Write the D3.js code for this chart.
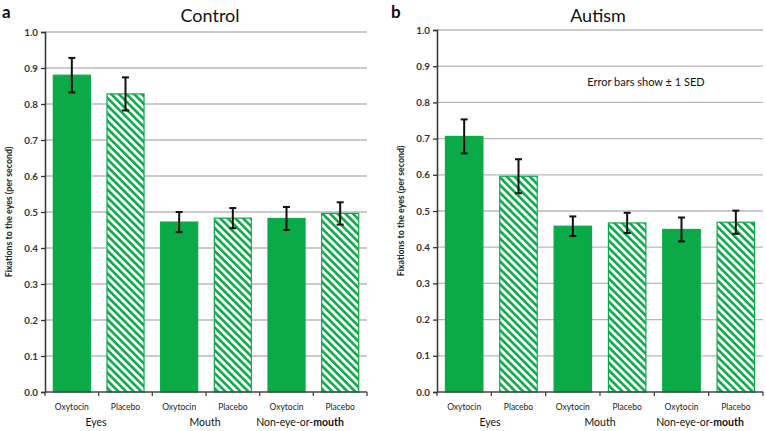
<!DOCTYPE html>
<html><head><meta charset="utf-8">
<script src="https://cdn.jsdelivr.net/npm/d3@7"></script>
<style>
body{margin:0;background:#fff;}
text{font-family:Lato,"Open Sans",sans-serif;}
</style></head>
<body><svg id="c" width="766" height="431"></svg>
<script>
const conditions = ["Oxytocin","Placebo"];
const regions = ["Eyes","Mouth","Non-eye-or-mouth"];
const yTicks = [0,0.1,0.2,0.3,0.4,0.5,0.6,0.7,0.8,0.9,1.0];
// values per region, order: Oxytocin, Placebo
const controlValues = [0.880,0.828, 0.472,0.483, 0.482,0.496];
const controlErr    = [0.048,0.046, 0.028,0.028, 0.032,0.031];
const autismValues  = [0.706,0.596, 0.458,0.467, 0.449,0.469];
const autismErr     = [0.047,0.047, 0.027,0.028, 0.033,0.032];

const green = "#0aaa48";
const svg = d3.select("#c");
const defs = svg.append("defs");
const pat = defs.append("pattern").attr("id","hatch").attr("patternUnits","userSpaceOnUse")
  .attr("width",5.4).attr("height",5.4).attr("patternTransform","rotate(-45)");
pat.append("rect").attr("width",5.4).attr("height",5.4).attr("fill","#fff");
pat.append("rect").attr("x",0).attr("width",2.6).attr("height",5.4).attr("fill",green);

function panel(o){
  const g = svg.append("g");
  const keys = [];
  regions.forEach(r=>conditions.forEach(c=>keys.push(r+"|"+c)));
  const x = d3.scaleBand().domain(keys).range([o.x0,o.x1]).paddingInner(0.31).paddingOuter(0.155);
  const y = d3.scaleLinear().domain([0,1]).range([o.y0,o.y1]);
  g.selectAll(".grid").data(yTicks.slice(1)).join("line")
    .attr("x1",o.x0).attr("x2",o.x1).attr("y1",d=>y(d)).attr("y2",d=>y(d))
    .attr("stroke","#b8b8b8").attr("stroke-width",1.3);
  const ya = g.append("g").attr("transform",`translate(${o.x0},0)`)
    .call(d3.axisLeft(y).tickValues(yTicks).tickFormat(d3.format(".1f")).tickSize(4).tickPadding(3));
  ya.select(".domain").attr("stroke","#333").attr("stroke-width",1.5);
  ya.selectAll(".tick line").attr("stroke","#333").attr("stroke-width",1.3);
  ya.selectAll(".tick text").attr("font-size",9.8).attr("font-weight","bold").attr("fill","#333");
  const data = keys.map((k,i)=>({k, cond:k.split("|")[1], v:o.values[i], e:o.err[i]}));
  g.selectAll(".bar").data(data).join("rect")
    .attr("x",d=>x(d.k)).attr("width",x.bandwidth())
    .attr("y",d=>y(d.v)).attr("height",d=>y(0)-y(d.v))
    .attr("fill",d=>d.cond==="Oxytocin"?green:"url(#hatch)")
    .attr("stroke",green).attr("stroke-width",1.2);
  g.append("line").attr("x1",o.x0).attr("x2",o.x1).attr("y1",y(0)).attr("y2",y(0))
    .attr("stroke","#444").attr("stroke-width",1.5);
  const step = x.step();
  const bounds = d3.range(keys.length+1).map(i=>x(keys[0]) - x.paddingOuter()*step + i*step);
  g.selectAll(".xt").data(bounds).join("line")
    .attr("x1",d=>d).attr("x2",d=>d).attr("y1",y(0)).attr("y2",y(0)+4)
    .attr("stroke","#444").attr("stroke-width",1.3);
  const eg = g.selectAll(".err").data(data).join("g").attr("stroke","#111").attr("stroke-width",2);
  eg.append("line").attr("x1",d=>x(d.k)+x.bandwidth()/2).attr("x2",d=>x(d.k)+x.bandwidth()/2)
    .attr("y1",d=>y(d.v+d.e)).attr("y2",d=>y(d.v-d.e));
  [1,-1].forEach(s=>{
    eg.append("line").attr("x1",d=>x(d.k)+x.bandwidth()/2-3.5).attr("x2",d=>x(d.k)+x.bandwidth()/2+3.5)
      .attr("y1",d=>y(d.v+s*d.e)).attr("y2",d=>y(d.v+s*d.e));
  });
  g.selectAll(".cl").data(data).join("text")
    .attr("x",d=>x(d.k)+x.bandwidth()/2).attr("y",y(0)+18)
    .attr("text-anchor","middle").attr("font-size",8.5).attr("fill","#222").text(d=>d.cond);
  regions.forEach((r,i)=>{
    const cx = o.regionX[i];
    const t = g.append("text").attr("x",cx).attr("y",y(0)+34).attr("text-anchor","middle")
      .attr("font-size",10.5).attr("fill","#111");
    if(r==="Non-eye-or-mouth"){
      t.append("tspan").text("Non-eye-or-");
      t.append("tspan").attr("font-weight","bold").text("mouth");
    } else t.text(r);
  });
  g.append("text").attr("transform",`translate(${o.ylabX},${(y(0)+y(1))/2}) rotate(-90)`)
    .attr("text-anchor","middle").attr("font-size",8.8).attr("font-weight","bold").attr("fill","#222")
    .text("Fixations to the eyes (per second)");
  g.append("text").attr("x",o.titleX).attr("y",22).attr("text-anchor","middle")
    .attr("font-size",18).attr("fill","#111").text(o.title);
  g.append("text").attr("x",o.letterX).attr("y",18).attr("font-size",17).attr("font-weight","bold")
    .attr("fill","#111").text(o.letter);
  return {x,y};
}

panel({x0:45,x1:367,y0:392,y1:32,values:controlValues,err:controlErr,
  regionX:[96,205,300],ylabX:12,titleX:210,title:"Control",letterX:2,letter:"a"});
const p2 = panel({x0:437,x1:763,y0:392,y1:30,values:autismValues,err:autismErr,
  regionX:[490,600,700],ylabX:404,titleX:598,title:"Autism",letterX:391,letter:"b"});
svg.append("text").attr("x",646).attr("y",p2.y(0.855)+4).attr("text-anchor","middle")
  .attr("font-size",11).attr("fill","#111").text("Error bars show ± 1 SED");
</script></body></html>
